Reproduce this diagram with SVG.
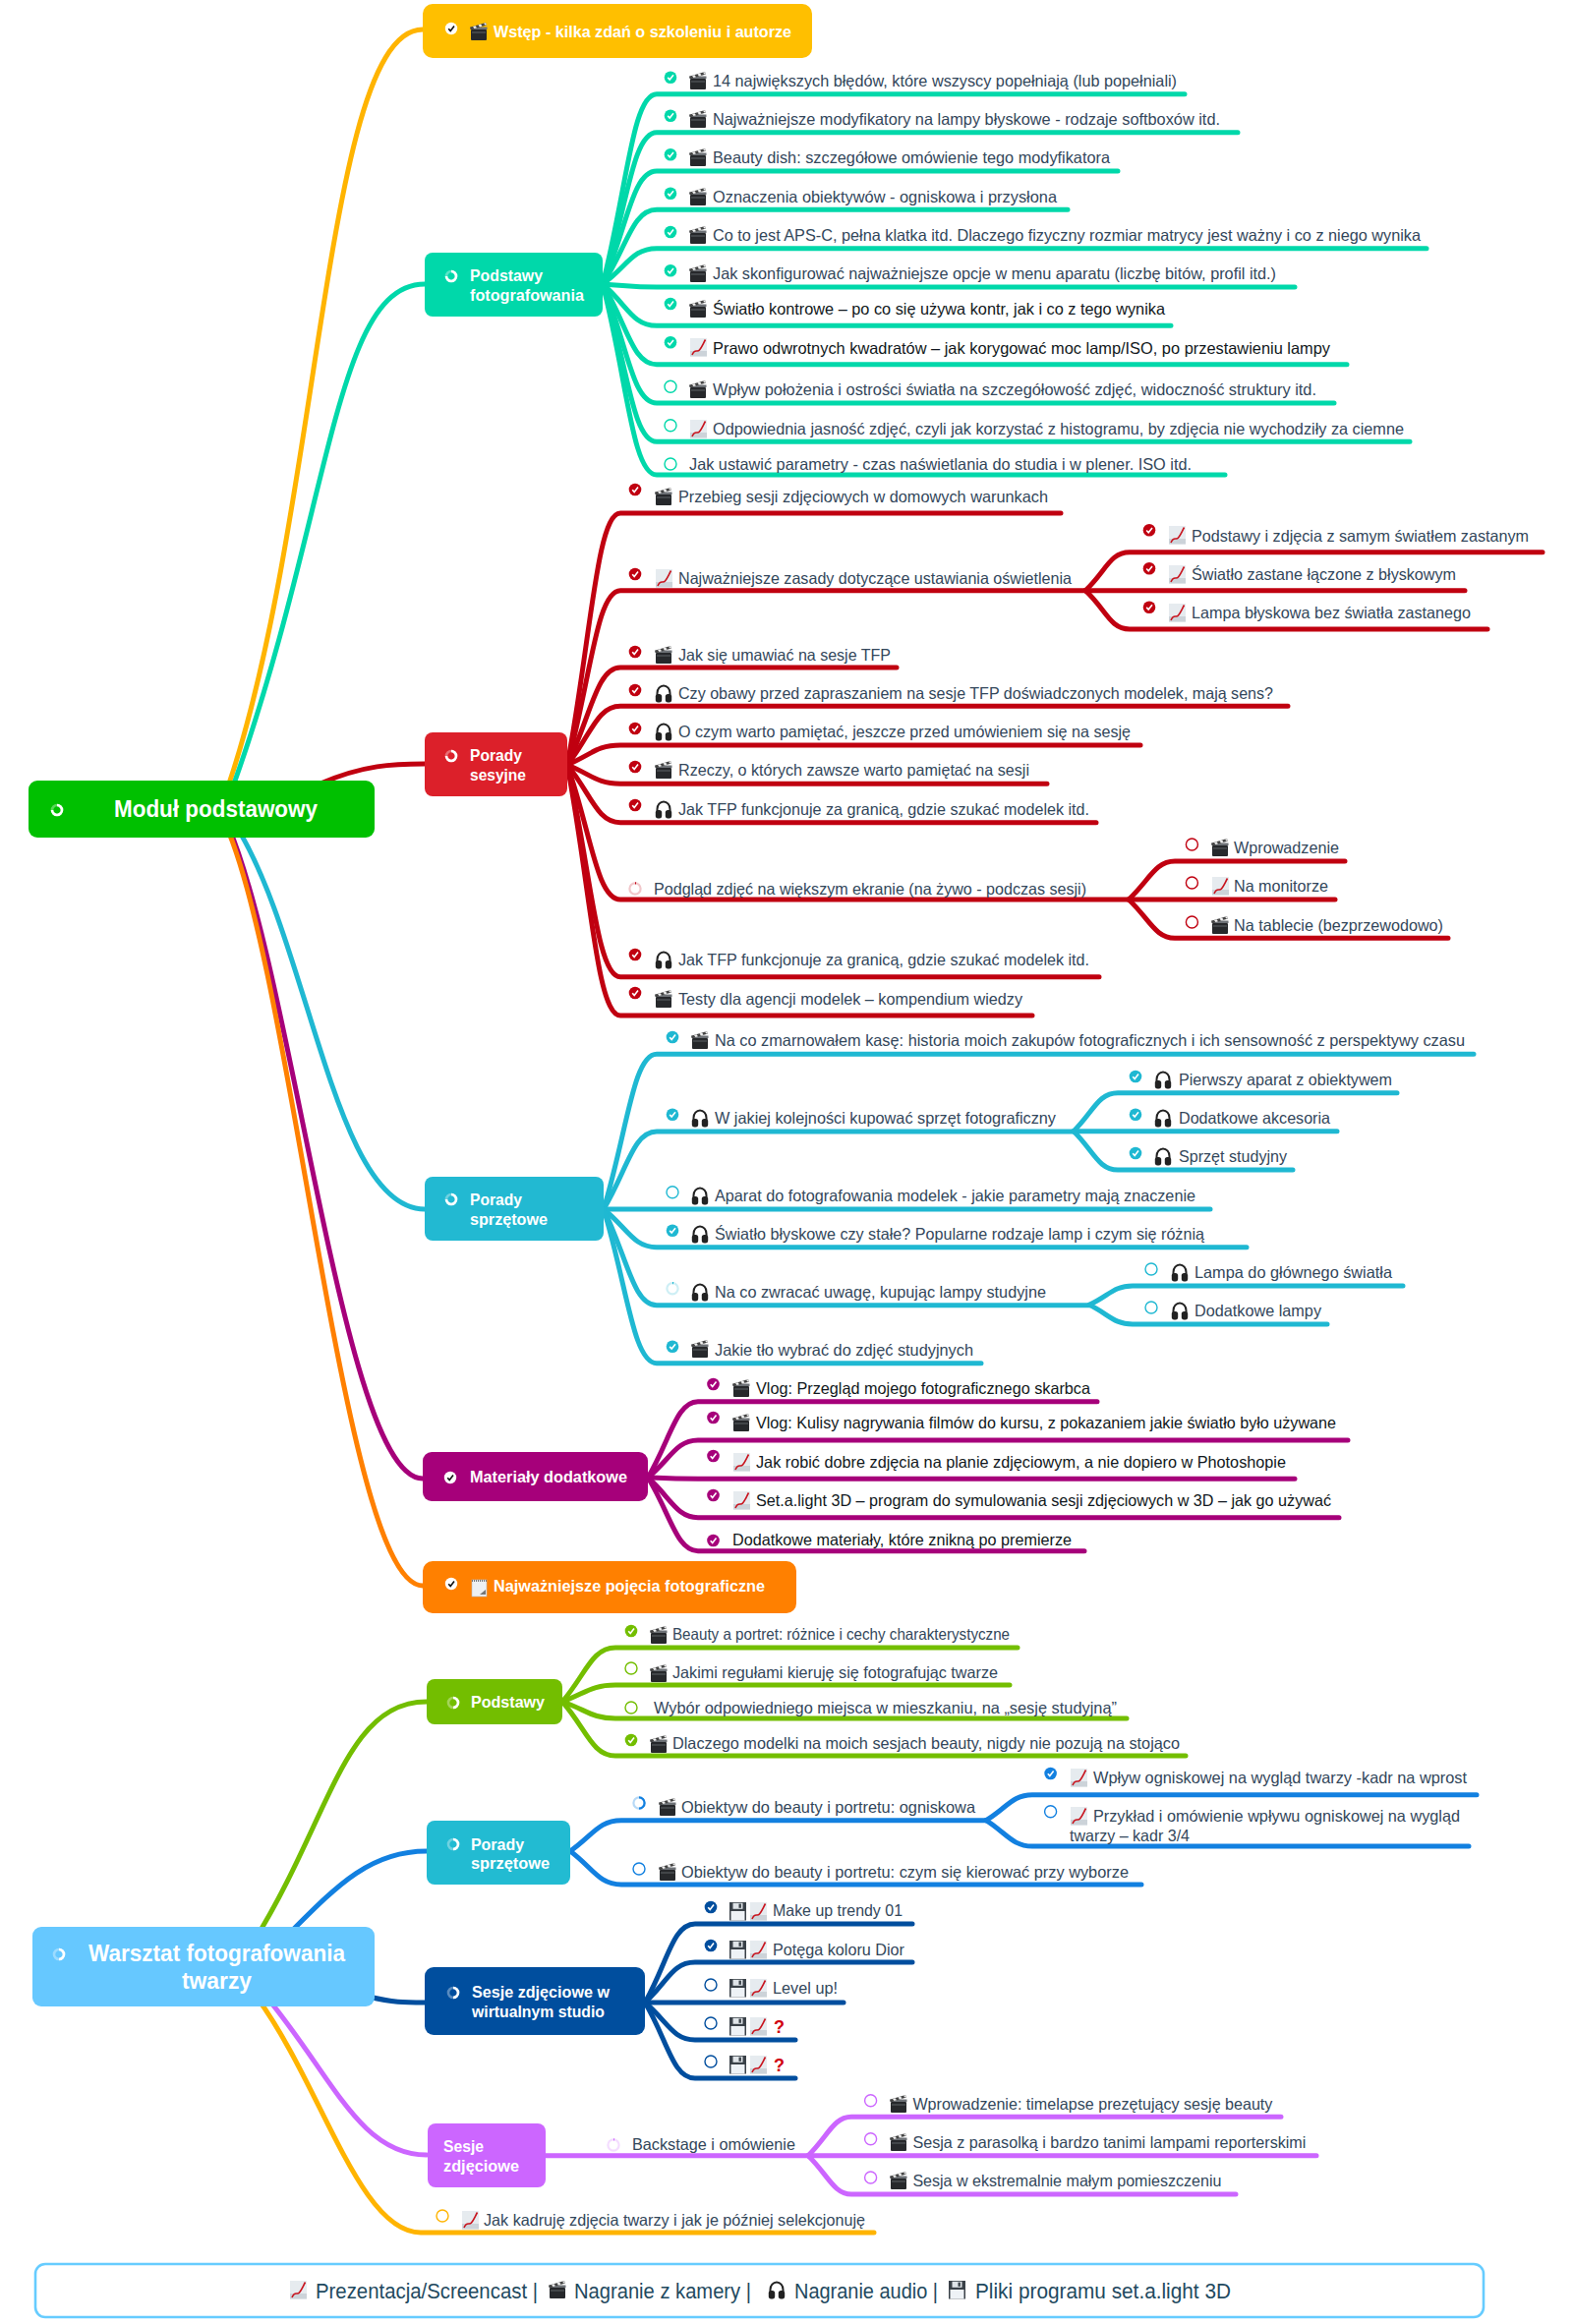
<svg xmlns="http://www.w3.org/2000/svg" width="1600" height="2364" viewBox="0 0 1600 2364">
<style>
text{font-family:"Liberation Sans",Arial,sans-serif}
.t{font-size:16.5px;fill:#33475b}
.d{fill:#111820}
.n{font-size:16.5px;font-weight:bold;fill:#fff}
.r{font-size:24px;font-weight:bold;fill:#fff}
.l{font-size:22.5px;fill:#1f4a60}
.q{font-size:18px;font-weight:bold;fill:#d00010}
#links path{fill:none;stroke-width:5;stroke-linecap:round}
.teal{color:#00d8aa}.red{color:#c00010}.cyan{color:#1fb8d2}.purp{color:#a6007a}.gre{color:#73be00}.blu{color:#1280e0}.nav{color:#004e9e}.vio{color:#cc66ff}.yel{color:#ffb400}
</style>
<defs>
<g id="chk"><circle r="6.3" fill="currentColor"/><path d="M-2.8 0.2L-0.8 2.4L3 -2.4" fill="none" stroke="#fff" stroke-width="1.6"/></g>
<g id="ring"><circle r="6" fill="#fff" stroke="currentColor" stroke-width="1.4"/></g>
<g id="wchk"><circle r="6.2" fill="#fff"/><path d="M-2.8 0.2L-0.8 2.4L3 -2.6" fill="none" stroke="#111" stroke-width="1.6"/></g>
<g id="wp"><circle r="5" fill="none" stroke="#fff" stroke-width="2.6" stroke-opacity="0.35"/><path d="M0 -5A5 5 0 1 1 -5 0" fill="none" stroke="#fff" stroke-width="2.6"/></g>
<g id="wh"><circle r="5" fill="none" stroke="#fff" stroke-width="2.6" stroke-opacity="0.35"/><path d="M0 -5A5 5 0 0 1 0 5" fill="none" stroke="#fff" stroke-width="2.6"/></g>
<g id="p0"><circle r="5.6" fill="none" stroke="currentColor" stroke-width="2.2" stroke-opacity="0.22"/><path d="M0 -5.6A5.6 5.6 0 0 1 1 -5.5" fill="none" stroke="currentColor" stroke-width="2.2"/></g>
<g id="ph"><circle r="5.6" fill="none" stroke="currentColor" stroke-width="2.2" stroke-opacity="0.3"/><path d="M0 -5.6A5.6 5.6 0 0 1 0 5.6" fill="none" stroke="currentColor" stroke-width="2.2"/></g>
<g id="clap"><rect x="1" y="7" width="16" height="11" rx="1" fill="#26282b"/><path d="M0.5 7L17.5 7L17.5 4.5L0.5 4.5Z" fill="#6d7176"/><path d="M0 4.8L16 0L17 2.5L1 7.2Z" fill="#444"/><path d="M3 4L5.5 3.2L7 5.2L4.5 6ZM8.5 2.4L11 1.6L12.5 3.6L10 4.4ZM14 0.8L16 0.2L17 2.2L15.5 2.6Z" fill="#f2f2f2"/><path d="M2 10H16" stroke="#6d7176" stroke-width="0.8"/></g>
<g id="chart"><rect x="0" y="0" width="17" height="18.5" fill="#e6ebef"/><rect x="0" y="13" width="17" height="5.5" fill="#ccd3d9"/><path d="M2 17C5 10 7 15 9.5 12C12 9 13 6 15.5 1.5" fill="none" stroke="#c8141e" stroke-width="1.6"/></g>
<g id="head"><path d="M2.5 11V9A6.5 7.5 0 0 1 15.5 9V11" fill="none" stroke="#222" stroke-width="2"/><rect x="0.8" y="10" width="6.4" height="8.4" rx="2.6" fill="#222"/><rect x="10.8" y="10" width="6.4" height="8.4" rx="2.6" fill="#222"/></g>
<g id="flop"><rect x="0" y="0" width="17" height="18.5" fill="#3a4148"/><rect x="3.5" y="0.8" width="10" height="6" fill="#dfe4e8"/><rect x="9.5" y="1.6" width="2.4" height="4.2" fill="#3a4148"/><rect x="1.5" y="9" width="14" height="9.5" fill="#eef2f6"/></g>
<g id="note"><rect x="1" y="1" width="15" height="17" fill="#eef0f2" stroke="#b8bdc2" stroke-width="0.6"/><path d="M1 2H16" stroke="#777" stroke-width="2" stroke-dasharray="1 1"/><path d="M9 16L15 11V16Z" fill="#777"/></g>
</defs>

<g id="links">
<g stroke="#ffb400"><path d="M232 800C327 520 330 30 430 30"/></g>
<g stroke="#00d8aa"><path d="M237 800C337 520 340 289 432 289"/>
<path d="M613 289C638 192 643 95.7 668 95.7H1205"/><path d="M613 289C638 212 643 134.7 668 134.7H1259"/><path d="M613 289C638 231.5 643 174 668 174H1137"/><path d="M613 289C638 251 643 213.3 668 213.3H1086"/><path d="M613 289C638 271 643 252.7 668 252.7H1451"/><path d="M613 289C638 290.5 643 292 668 292H1317"/><path d="M613 289C638 310 643 331.3 668 331.3H1191"/><path d="M613 289C638 330 643 370.7 668 370.7H1370"/><path d="M613 289C638 349.5 643 410 668 410H1357"/><path d="M613 289C638 369 643 449.3 668 449.3H1434"/><path d="M613 289C638 386 643 483 668 483H1246"/></g>
<g stroke="#c00010"><path d="M326 797C370 778 400 777 432 777"/>
<path d="M577 778C601 650 607 522 631 522H1079"/><path d="M577 778C601 689 607 600.7 631 600.7H1104"/><path d="M577 778C601 728 607 679 631 679H912"/><path d="M577 778C601 748 607 718.3 631 718.3H1310"/><path d="M577 778C601 768 607 758 631 758H1160"/><path d="M577 778C601 787.5 607 797.3 631 797.3H1065"/><path d="M577 778C601 807 607 836.7 631 836.7H1115"/><path d="M577 778C601 846.5 607 915 631 915H1148"/><path d="M577 778C601 886 607 993.7 631 993.7H1118"/><path d="M577 778C601 905.5 607 1033 631 1033H1050"/>
<path d="M1104 600.7C1125 581 1129 561.7 1149 561.7H1569"/><path d="M1104 600.7H1490"/><path d="M1104 600.7C1125 620 1129 640 1149 640H1513"/>
<path d="M1148 915C1169 895.5 1175 876 1195 876H1368"/><path d="M1148 915H1358"/><path d="M1148 915C1169 934.6 1175 954.3 1195 954.3H1473"/></g>
<g stroke="#1fb8d2"><path d="M240 840C315 960 340 1230 432 1230"/>
<path d="M614 1230C638 1151 644 1072.3 668 1072.3H1499"/><path d="M614 1230C638 1190 644 1151 668 1151H1092"/><path d="M614 1230H1231"/><path d="M614 1230C638 1249 644 1268.7 668 1268.7H1268"/><path d="M614 1230C638 1279 644 1327.7 668 1327.7H1108"/><path d="M614 1230C638 1308 644 1386.7 668 1386.7H998"/>
<path d="M1092 1150.7C1112 1131 1117 1111.7 1137 1111.7H1421"/><path d="M1092 1150.7H1360"/><path d="M1092 1150.7C1112 1170 1117 1190 1137 1190H1315"/>
<path d="M1108 1327.3C1128 1318 1133 1308 1152 1308H1427"/><path d="M1108 1327.3C1128 1337 1133 1347 1152 1347H1350"/></g>
<g stroke="#a6007a"><path d="M232 840C300 1000 350 1504 430 1504"/>
<path d="M659 1503C682 1464 688 1425.7 710 1425.7H1116"/><path d="M659 1503C682 1484 688 1465 710 1465H1371"/><path d="M659 1503C682 1504 688 1504.3 710 1504.3H1317"/><path d="M659 1503C682 1523 688 1543.7 710 1543.7H1362"/><path d="M659 1503C682 1540 688 1577.7 710 1577.7H1103"/></g>
<g stroke="#ff8000"><path d="M230 840C300 1000 350 1613 430 1613"/></g>
<g stroke="#73be00"><path d="M258 1975C336 1850 350 1731 434 1731"/>
<path d="M572 1731C596 1703 602 1676 626 1676H1035"/><path d="M572 1731C596 1722 602 1714 626 1714H1027"/><path d="M572 1731C596 1739 602 1748 626 1748H1146"/><path d="M572 1731C596 1758 602 1786 626 1786H1206"/></g>
<g stroke="#1280e0"><path d="M291 1970C341 1920 375 1883 434 1883"/>
<path d="M580 1883C603 1867 609 1851.7 632 1851.7H1003"/><path d="M580 1883C603 1900 609 1917 632 1917H1161"/>
<path d="M1003 1851.7C1024 1839 1030 1825.7 1050 1825.7H1502"/><path d="M1003 1851.7C1024 1865 1030 1878 1050 1878H1494"/></g>
<g stroke="#004e9e"><path d="M375 2031C400 2037 410 2037 432 2037"/>
<path d="M656 2037C679 1997 684 1957 707 1957H928"/><path d="M656 2037C679 2016 684 1996 707 1996H928"/><path d="M656 2037H858"/><path d="M656 2037C679 2056 684 2075 707 2075H809"/><path d="M656 2037C679 2075 684 2114 707 2114H809"/></g>
<g stroke="#cc66ff"><path d="M270 2030C337 2110 365 2192 434 2192"/>
<path d="M554 2192.7H822"/><path d="M822 2192.7C842 2173 848 2153.3 866 2153.3H1303"/><path d="M822 2192.7H1339"/><path d="M822 2192.7C842 2212 848 2232 866 2232H1257"/></g>
<g stroke="#ffb400"><path d="M260 2030C327 2120 365 2271 428 2271H889"/></g>
</g>

<g id="root1"><rect x="29" y="794" width="352" height="58" rx="9" fill="#00c000"/><use href="#wp" x="58" y="824"/><text class="r" x="116" y="831" textLength="207" lengthAdjust="spacingAndGlyphs">Moduł podstawowy</text></g>

<g id="wstep"><rect x="430" y="4" width="396" height="55" rx="10" fill="#ffbf00"/><use href="#wchk" x="459" y="29"/><use href="#clap" x="478" y="23"/><text class="n" x="502" y="37.5" textLength="303" lengthAdjust="spacingAndGlyphs">Wstęp - kilka zdań o szkoleniu i autorze</text></g>

<g id="podstawy"><rect x="432" y="257" width="181" height="65" rx="8" fill="#00d8aa"/><use href="#wp" x="459" y="281"/><text class="n" x="478" y="286" textLength="74" lengthAdjust="spacingAndGlyphs">Podstawy</text><text class="n" x="478" y="306" textLength="116" lengthAdjust="spacingAndGlyphs">fotografowania</text></g>
<g class="teal">
<g id="t1"><use href="#chk" x="682" y="78.7"/><use href="#clap" x="701" y="73"/><text class="t" x="725" y="87.7" textLength="472" lengthAdjust="spacingAndGlyphs">14 największych błędów, które wszyscy popełniają (lub popełniali)</text></g>
<g id="t2"><use href="#chk" x="682" y="117.7"/><use href="#clap" x="701" y="112"/><text class="t" x="725" y="127" textLength="516" lengthAdjust="spacingAndGlyphs">Najważniejsze modyfikatory na lampy błyskowe - rodzaje softboxów itd.</text></g>
<g id="t3"><use href="#chk" x="682" y="157.3"/><use href="#clap" x="701" y="151"/><text class="t" x="725" y="166.3" textLength="404" lengthAdjust="spacingAndGlyphs">Beauty dish: szczegółowe omówienie tego modyfikatora</text></g>
<g id="t4"><use href="#chk" x="682" y="196.7"/><use href="#clap" x="701" y="191"/><text class="t" x="725" y="205.7" textLength="350" lengthAdjust="spacingAndGlyphs">Oznaczenia obiektywów - ogniskowa i przysłona</text></g>
<g id="t5"><use href="#chk" x="682" y="236"/><use href="#clap" x="701" y="230"/><text class="t" x="725" y="245" textLength="720" lengthAdjust="spacingAndGlyphs">Co to jest APS-C, pełna klatka itd. Dlaczego fizyczny rozmiar matrycy jest ważny i co z niego wynika</text></g>
<g id="t6"><use href="#chk" x="682" y="275.3"/><use href="#clap" x="701" y="269"/><text class="t" x="725" y="284.3" textLength="573" lengthAdjust="spacingAndGlyphs">Jak skonfigurować najważniejsze opcje w menu aparatu (liczbę bitów, profil itd.)</text></g>
<g id="t7"><use href="#chk" x="682" y="309"/><use href="#clap" x="701" y="305"/><text class="t d" x="725" y="320.3" textLength="460" lengthAdjust="spacingAndGlyphs">Światło kontrowe – po co się używa kontr, jak i co z tego wynika</text></g>
<g id="t8"><use href="#chk" x="682" y="348.3"/><use href="#chart" x="702" y="344"/><text class="t d" x="725" y="359.7" textLength="628" lengthAdjust="spacingAndGlyphs">Prawo odwrotnych kwadratów – jak korygować moc lamp/ISO, po przestawieniu lampy</text></g>
<g id="t9"><use href="#ring" x="682" y="393.3"/><use href="#clap" x="701" y="387"/><text class="t" x="725" y="402.3" textLength="614" lengthAdjust="spacingAndGlyphs">Wpływ położenia i ostrości światła na szczegółowość zdjęć, widoczność struktury itd.</text></g>
<g id="t10"><use href="#ring" x="682" y="432.7"/><use href="#chart" x="702" y="427"/><text class="t" x="725" y="441.7" textLength="703" lengthAdjust="spacingAndGlyphs">Odpowiednia jasność zdjęć, czyli jak korzystać z histogramu, by zdjęcia nie wychodziły za ciemne</text></g>
<g id="t11"><use href="#ring" x="682" y="472"/><text class="t" x="701" y="477.7" textLength="511" lengthAdjust="spacingAndGlyphs">Jak ustawić parametry - czas naświetlania do studia i w plener. ISO itd.</text></g>
</g>

<g id="sesyjne"><rect x="432" y="745" width="145" height="65" rx="8" fill="#dc202a"/><use href="#wp" x="459" y="769"/><text class="n" x="478" y="774" textLength="53" lengthAdjust="spacingAndGlyphs">Porady</text><text class="n" x="478" y="794" textLength="57" lengthAdjust="spacingAndGlyphs">sesyjne</text></g>
<g class="red">
<g id="r1"><use href="#chk" x="646" y="498"/><use href="#clap" x="666" y="496"/><text class="t" x="690" y="511" textLength="376" lengthAdjust="spacingAndGlyphs">Przebieg sesji zdjęciowych w domowych warunkach</text></g>
<g id="r2"><use href="#chk" x="646" y="584"/><use href="#chart" x="667" y="579"/><text class="t" x="690" y="594" textLength="400" lengthAdjust="spacingAndGlyphs">Najważniejsze zasady dotyczące ustawiania oświetlenia</text></g>
<g id="r3"><use href="#chk" x="646" y="663"/><use href="#clap" x="666" y="657"/><text class="t" x="690" y="672" textLength="216" lengthAdjust="spacingAndGlyphs">Jak się umawiać na sesje TFP</text></g>
<g id="r4"><use href="#chk" x="646" y="702"/><use href="#head" x="666" y="696"/><text class="t" x="690" y="711" textLength="605" lengthAdjust="spacingAndGlyphs">Czy obawy przed zapraszaniem na sesje TFP doświadczonych modelek, mają sens?</text></g>
<g id="r5"><use href="#chk" x="646" y="741"/><use href="#head" x="666" y="735"/><text class="t" x="690" y="750" textLength="460" lengthAdjust="spacingAndGlyphs">O czym warto pamiętać, jeszcze przed umówieniem się na sesję</text></g>
<g id="r6"><use href="#chk" x="646" y="780"/><use href="#clap" x="666" y="774"/><text class="t" x="690" y="789" textLength="357" lengthAdjust="spacingAndGlyphs">Rzeczy, o których zawsze warto pamiętać na sesji</text></g>
<g id="r7"><use href="#chk" x="646" y="819"/><use href="#head" x="666" y="814"/><text class="t" x="690" y="829" textLength="418" lengthAdjust="spacingAndGlyphs">Jak TFP funkcjonuje za granicą, gdzie szukać modelek itd.</text></g>
<g id="r8"><use href="#p0" x="646" y="904"/><text class="t" x="665" y="910" textLength="440" lengthAdjust="spacingAndGlyphs">Podgląd zdjęć na większym ekranie (na żywo - podczas sesji)</text></g>
<g id="r9"><use href="#chk" x="646" y="971"/><use href="#head" x="666" y="967"/><text class="t" x="690" y="982" textLength="418" lengthAdjust="spacingAndGlyphs">Jak TFP funkcjonuje za granicą, gdzie szukać modelek itd.</text></g>
<g id="r10"><use href="#chk" x="646" y="1010"/><use href="#clap" x="666" y="1007"/><text class="t" x="690" y="1022" textLength="350" lengthAdjust="spacingAndGlyphs">Testy dla agencji modelek – kompendium wiedzy</text></g>
<g id="r21"><use href="#chk" x="1169" y="539.3"/><use href="#chart" x="1189" y="535"/><text class="t" x="1212" y="550.7" textLength="343" lengthAdjust="spacingAndGlyphs">Podstawy i zdjęcia z samym światłem zastanym</text></g>
<g id="r22"><use href="#chk" x="1169" y="578.3"/><use href="#chart" x="1189" y="575"/><text class="t" x="1212" y="590" textLength="269" lengthAdjust="spacingAndGlyphs">Światło zastane łączone z błyskowym</text></g>
<g id="r23"><use href="#chk" x="1169" y="617.7"/><use href="#chart" x="1189" y="614"/><text class="t" x="1212" y="629" textLength="284" lengthAdjust="spacingAndGlyphs">Lampa błyskowa bez światła zastanego</text></g>
<g id="r81"><use href="#ring" x="1212.4" y="859"/><use href="#clap" x="1232" y="853"/><text class="t" x="1255" y="868" textLength="107" lengthAdjust="spacingAndGlyphs">Wprowadzenie</text></g>
<g id="r82"><use href="#ring" x="1212.4" y="898"/><use href="#chart" x="1233" y="892"/><text class="t" x="1255" y="907" textLength="96" lengthAdjust="spacingAndGlyphs">Na monitorze</text></g>
<g id="r83"><use href="#ring" x="1212.4" y="938"/><use href="#clap" x="1232" y="932"/><text class="t" x="1255" y="946.5" textLength="213" lengthAdjust="spacingAndGlyphs">Na tablecie (bezprzewodowo)</text></g>
</g>

<g id="sprzet"><rect x="432" y="1197" width="182" height="65" rx="8" fill="#22b9d2"/><use href="#wp" x="459" y="1220"/><text class="n" x="478" y="1226" textLength="53" lengthAdjust="spacingAndGlyphs">Porady</text><text class="n" x="478" y="1246" textLength="79" lengthAdjust="spacingAndGlyphs">sprzętowe</text></g>
<g class="cyan">
<g id="c1"><use href="#chk" x="684" y="1055"/><use href="#clap" x="703" y="1049"/><text class="t" x="727" y="1064.3" textLength="763" lengthAdjust="spacingAndGlyphs">Na co zmarnowałem kasę: historia moich zakupów fotograficznych i ich sensowność z perspektywy czasu</text></g>
<g id="c2"><use href="#chk" x="684" y="1133.7"/><use href="#head" x="703" y="1128"/><text class="t" x="727" y="1143" textLength="347" lengthAdjust="spacingAndGlyphs">W jakiej kolejności kupować sprzęt fotograficzny</text></g>
<g id="c3"><use href="#ring" x="684" y="1212.7"/><use href="#head" x="703" y="1207"/><text class="t" x="727" y="1221.7" textLength="489" lengthAdjust="spacingAndGlyphs">Aparat do fotografowania modelek - jakie parametry mają znaczenie</text></g>
<g id="c4"><use href="#chk" x="684" y="1251.7"/><use href="#head" x="703" y="1246"/><text class="t" x="727" y="1261" textLength="498" lengthAdjust="spacingAndGlyphs">Światło błyskowe czy stałe? Popularne rodzaje lamp i czym się różnią</text></g>
<g id="c5"><use href="#p0" x="684" y="1310.7"/><use href="#head" x="703" y="1305"/><text class="t" x="727" y="1320" textLength="337" lengthAdjust="spacingAndGlyphs">Na co zwracać uwagę, kupując lampy studyjne</text></g>
<g id="c6"><use href="#chk" x="684" y="1369.7"/><use href="#clap" x="703" y="1363"/><text class="t" x="727" y="1378.7" textLength="263" lengthAdjust="spacingAndGlyphs">Jakie tło wybrać do zdjęć studyjnych</text></g>
<g id="c21"><use href="#chk" x="1155" y="1095"/><use href="#head" x="1174" y="1089"/><text class="t" x="1199" y="1104" textLength="217" lengthAdjust="spacingAndGlyphs">Pierwszy aparat z obiektywem</text></g>
<g id="c22"><use href="#chk" x="1155" y="1133.7"/><use href="#head" x="1174" y="1128"/><text class="t" x="1199" y="1143" textLength="154" lengthAdjust="spacingAndGlyphs">Dodatkowe akcesoria</text></g>
<g id="c23"><use href="#chk" x="1155" y="1173"/><use href="#head" x="1174" y="1167"/><text class="t" x="1199" y="1182" textLength="110" lengthAdjust="spacingAndGlyphs">Sprzęt studyjny</text></g>
<g id="c51"><use href="#ring" x="1171" y="1291"/><use href="#head" x="1191" y="1285"/><text class="t" x="1215" y="1300" textLength="201" lengthAdjust="spacingAndGlyphs">Lampa do głównego światła</text></g>
<g id="c52"><use href="#ring" x="1171" y="1330"/><use href="#head" x="1191" y="1324"/><text class="t" x="1215" y="1339" textLength="129" lengthAdjust="spacingAndGlyphs">Dodatkowe lampy</text></g>
</g>

<g id="materialy"><rect x="430" y="1477" width="229" height="50" rx="9" fill="#a6007a"/><use href="#wchk" x="458" y="1503"/><text class="n" x="478" y="1507.7" textLength="160" lengthAdjust="spacingAndGlyphs">Materiały dodatkowe</text></g>
<g class="purp">
<g id="m1"><use href="#chk" x="725.5" y="1408"/><use href="#clap" x="745" y="1403"/><text class="t d" x="769" y="1418" textLength="340" lengthAdjust="spacingAndGlyphs">Vlog: Przegląd mojego fotograficznego skarbca</text></g>
<g id="m2"><use href="#chk" x="725.5" y="1442"/><use href="#clap" x="745" y="1438"/><text class="t d" x="769" y="1453" textLength="590" lengthAdjust="spacingAndGlyphs">Vlog: Kulisy nagrywania filmów do kursu, z pokazaniem jakie światło było używane</text></g>
<g id="m3"><use href="#chk" x="725.5" y="1481"/><use href="#chart" x="746" y="1478"/><text class="t d" x="769" y="1493" textLength="539" lengthAdjust="spacingAndGlyphs">Jak robić dobre zdjęcia na planie zdjęciowym, a nie dopiero w Photoshopie</text></g>
<g id="m4"><use href="#chk" x="725.5" y="1521"/><use href="#chart" x="746" y="1517"/><text class="t d" x="769" y="1532" textLength="585" lengthAdjust="spacingAndGlyphs">Set.a.light 3D – program do symulowania sesji zdjęciowych w 3D – jak go używać</text></g>
<g id="m5"><use href="#chk" x="725.5" y="1567"/><text class="t d" x="745" y="1572" textLength="345" lengthAdjust="spacingAndGlyphs">Dodatkowe materiały, które znikną po premierze</text></g>
</g>

<g id="pojecia"><rect x="430" y="1588" width="380" height="53" rx="10" fill="#ff8000"/><use href="#wchk" x="459" y="1611"/><use href="#note" x="479" y="1606"/><text class="n" x="502" y="1619" textLength="276" lengthAdjust="spacingAndGlyphs">Najważniejsze pojęcia fotograficzne</text></g>

<g id="root2"><rect x="33" y="1960" width="348" height="81" rx="9" fill="#66c8ff"/><use href="#wh" x="60" y="1988"/><text class="r" x="90" y="1995" textLength="261" lengthAdjust="spacingAndGlyphs">Warsztat fotografowania</text><text class="r" x="185" y="2023" textLength="71" lengthAdjust="spacingAndGlyphs">twarzy</text></g>

<g id="podst2"><rect x="434" y="1708" width="138" height="46" rx="8" fill="#73be00"/><use href="#wh" x="461" y="1732"/><text class="n" x="479" y="1737" textLength="75" lengthAdjust="spacingAndGlyphs">Podstawy</text></g>
<g class="gre">
<g id="g1"><use href="#chk" x="642" y="1659"/><use href="#clap" x="661" y="1654"/><text class="t" x="684" y="1668" textLength="343" lengthAdjust="spacingAndGlyphs">Beauty a portret: różnice i cechy charakterystyczne</text></g>
<g id="g2"><use href="#ring" x="642" y="1697"/><use href="#clap" x="661" y="1693"/><text class="t" x="684" y="1707" textLength="331" lengthAdjust="spacingAndGlyphs">Jakimi regułami kieruję się fotografując twarze</text></g>
<g id="g3"><use href="#ring" x="642" y="1737"/><text class="t" x="665" y="1743" textLength="471" lengthAdjust="spacingAndGlyphs">Wybór odpowiedniego miejsca w mieszkaniu, na „sesję studyjną”</text></g>
<g id="g4"><use href="#chk" x="642" y="1770"/><use href="#clap" x="661" y="1765"/><text class="t" x="684" y="1779" textLength="516" lengthAdjust="spacingAndGlyphs">Dlaczego modelki na moich sesjach beauty, nigdy nie pozują na stojąco</text></g>
</g>

<g id="sprzet2"><rect x="434" y="1852" width="146" height="65" rx="8" fill="#22bbd2"/><use href="#wh" x="461" y="1876"/><text class="n" x="479" y="1882" textLength="54" lengthAdjust="spacingAndGlyphs">Porady</text><text class="n" x="479" y="1901" textLength="80" lengthAdjust="spacingAndGlyphs">sprzętowe</text></g>
<g class="blu">
<g id="b1"><use href="#ph" x="650" y="1834"/><use href="#clap" x="670" y="1829"/><text class="t" x="693" y="1844" textLength="299" lengthAdjust="spacingAndGlyphs">Obiektyw do beauty i portretu: ogniskowa</text></g>
<g id="b2"><use href="#ring" x="650" y="1901"/><use href="#clap" x="670" y="1895"/><text class="t" x="693" y="1910" textLength="455" lengthAdjust="spacingAndGlyphs">Obiektyw do beauty i portretu: czym się kierować przy wyborze</text></g>
<g id="b11"><use href="#chk" x="1068.6" y="1804"/><use href="#chart" x="1089" y="1799"/><text class="t" x="1112" y="1814" textLength="380" lengthAdjust="spacingAndGlyphs">Wpływ ogniskowej na wygląd twarzy -kadr na wprost</text></g>
<g id="b12"><use href="#ring" x="1068.6" y="1842.7"/><use href="#chart" x="1089" y="1838"/><text class="t" x="1112" y="1853" textLength="373" lengthAdjust="spacingAndGlyphs">Przykład i omówienie wpływu ogniskowej na wygląd</text><text class="t" x="1088" y="1873" textLength="122" lengthAdjust="spacingAndGlyphs">twarzy – kadr 3/4</text></g>
</g>

<g id="wirtualne"><rect x="432" y="2001" width="224" height="69" rx="9" fill="#004e9e"/><use href="#wh" x="461" y="2027"/><text class="n" x="480" y="2032" textLength="140" lengthAdjust="spacingAndGlyphs">Sesje zdjęciowe w</text><text class="n" x="480" y="2052" textLength="135" lengthAdjust="spacingAndGlyphs">wirtualnym studio</text></g>
<g class="nav">
<g id="v1"><use href="#chk" x="723" y="1940"/><use href="#flop" x="742" y="1935"/><use href="#chart" x="763" y="1935"/><text class="t" x="786" y="1949" textLength="132" lengthAdjust="spacingAndGlyphs">Make up trendy 01</text></g>
<g id="v2"><use href="#chk" x="723" y="1979"/><use href="#flop" x="742" y="1974"/><use href="#chart" x="763" y="1974"/><text class="t" x="786" y="1989" textLength="134" lengthAdjust="spacingAndGlyphs">Potęga koloru Dior</text></g>
<g id="v3"><use href="#ring" x="723" y="2019"/><use href="#flop" x="742" y="2013"/><use href="#chart" x="763" y="2013"/><text class="t" x="786" y="2028" textLength="66" lengthAdjust="spacingAndGlyphs">Level up!</text></g>
<g id="v4"><use href="#ring" x="723" y="2058"/><use href="#flop" x="742" y="2052"/><use href="#chart" x="763" y="2052"/><text class="q" x="787" y="2068">?</text></g>
<g id="v5"><use href="#ring" x="723" y="2097"/><use href="#flop" x="742" y="2091"/><use href="#chart" x="763" y="2091"/><text class="q" x="787" y="2107">?</text></g>
</g>

<g id="sesje"><rect x="435" y="2160" width="120" height="65" rx="8" fill="#cc66ff"/><text class="n" x="451" y="2189" textLength="41" lengthAdjust="spacingAndGlyphs">Sesje</text><text class="n" x="451" y="2209" textLength="77" lengthAdjust="spacingAndGlyphs">zdjęciowe</text></g>
<g class="vio">
<g id="s0"><use href="#p0" x="624" y="2182"/><text class="t" x="643" y="2186.7" textLength="166" lengthAdjust="spacingAndGlyphs">Backstage i omówienie</text></g>
<g id="s1"><use href="#ring" x="885.6" y="2136.7"/><use href="#clap" x="905" y="2131"/><text class="t" x="928.4" y="2145.7" textLength="366" lengthAdjust="spacingAndGlyphs">Wprowadzenie: timelapse prezętujący sesję beauty</text></g>
<g id="s2"><use href="#ring" x="885.6" y="2175.7"/><use href="#clap" x="905" y="2170"/><text class="t" x="928.4" y="2185" textLength="400" lengthAdjust="spacingAndGlyphs">Sesja z parasolką i bardzo tanimi lampami reporterskimi</text></g>
<g id="s3"><use href="#ring" x="885.6" y="2215"/><use href="#clap" x="905" y="2209"/><text class="t" x="928.4" y="2224" textLength="314" lengthAdjust="spacingAndGlyphs">Sesja w ekstremalnie małym pomieszczeniu</text></g>
</g>

<g id="kadr" class="yel"><use href="#ring" x="450" y="2254"/><use href="#chart" x="470" y="2249"/><text class="t" x="492" y="2264" textLength="388" lengthAdjust="spacingAndGlyphs">Jak kadruję zdjęcia twarzy i jak je później selekcjonuję</text></g>

<g id="legenda"><rect x="36" y="2303" width="1473" height="54" rx="10" fill="#fff" stroke="#66ccff" stroke-width="2.6"/>
<use href="#chart" x="295" y="2320"/><text class="l" x="321" y="2338" textLength="226" lengthAdjust="spacingAndGlyphs">Prezentacja/Screencast |</text>
<use href="#clap" x="558" y="2320"/><text class="l" x="584" y="2338" textLength="180" lengthAdjust="spacingAndGlyphs">Nagranie z kamery |</text>
<use href="#head" x="781" y="2320"/><text class="l" x="808" y="2338" textLength="146" lengthAdjust="spacingAndGlyphs">Nagranie audio |</text>
<use href="#flop" x="965" y="2320"/><text class="l" x="992" y="2338" textLength="260" lengthAdjust="spacingAndGlyphs">Pliki programu set.a.light 3D</text></g>
</svg>
